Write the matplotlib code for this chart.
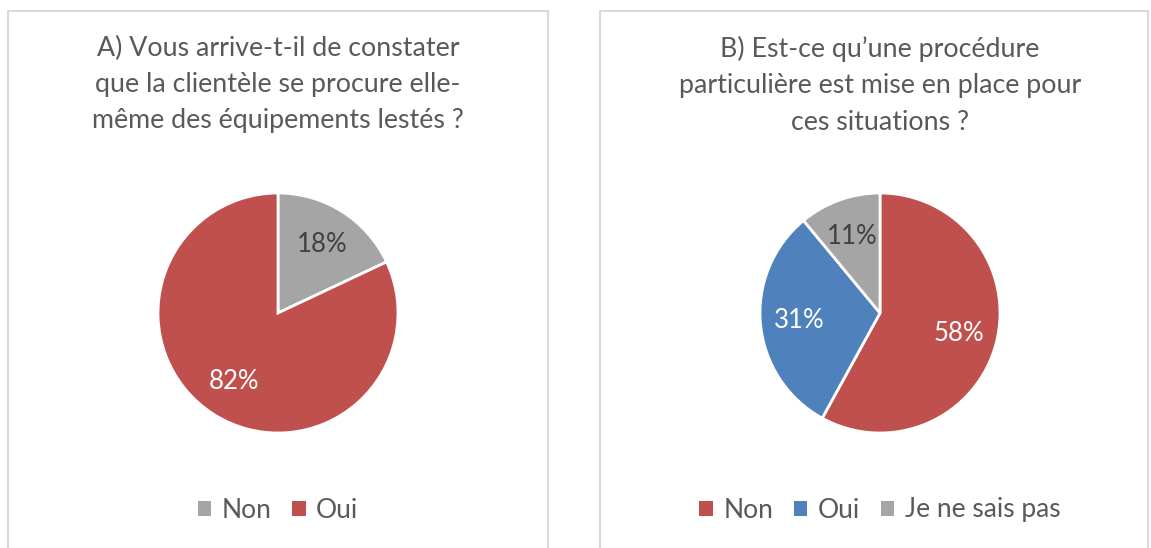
import matplotlib
matplotlib.use('Agg')
import matplotlib.pyplot as plt
from matplotlib.patches import Rectangle, Patch

plt.rcParams['font.family'] = ['Lato', 'DejaVu Sans']

RED = '#C0504D'
BLUE = '#4F81BD'
GRAY = '#A5A5A5'
TXT = '#595959'

# données
labels_a = ['Non', 'Oui']
values_a = [18, 82]
colors_a = [GRAY, RED]
pct_colors_a = ['#404040', 'white']
title_a = 'A) Vous arrive-t-il de constater\nque la clientèle se procure elle-\nmême des équipements lestés ?'

labels_b = ['Non', 'Oui', 'Je ne sais pas']
values_b = [58, 31, 11]
colors_b = [RED, BLUE, GRAY]
pct_colors_b = ['white', 'white', '#404040']
title_b = 'B) Est-ce qu\u2019une procédure\nparticulière est mise en place pour\nces situations ?'

W, H = 1151, 548
fig = plt.figure(figsize=(W / 100, H / 100), dpi=100)
fig.patch.set_facecolor('white')


def px_rect(x0, y0, x1, y1):
    # pixel coords (origin top-left) -> figure fraction rect
    return [x0 / W, 1 - y1 / H, (x1 - x0) / W, (y1 - y0) / H]


def panel(x0, x1, cx, values, colors, pct_colors, labels, title):
    fig.patches.append(Rectangle((x0 / W, -0.05), (x1 - x0) / W, 1.05 - 11 / H,
                                 transform=fig.transFigure, fill=False,
                                 edgecolor='#D9D9D9', linewidth=1.5))
    fig.text(cx / W, 1 - 36 / H, title, ha='center', va='top', fontsize=19.3,
             color=TXT, linespacing=1.56)
    r = 120
    pad = 1.1
    ax = fig.add_axes(px_rect(cx - r * pad, 313 - r * pad, cx + r * pad, 313 + r * pad))
    wedges, texts, autotexts = ax.pie(values, colors=colors, startangle=90, counterclock=False,
                                      autopct='%1.0f%%', pctdistance=0.68,
                                      wedgeprops=dict(edgecolor='white', linewidth=2),
                                      textprops=dict(fontsize=18.5))
    for t, c in zip(autotexts, pct_colors):
        t.set_color(c)
    ax.set_xlim(-pad, pad)
    ax.set_ylim(-pad, pad)
    ax.set_aspect('equal')
    ax.axis('off')
    handles = [Patch(facecolor=c, edgecolor='none') for c in colors]
    fig.legend(handles, labels, loc='center', bbox_to_anchor=(cx / W, 1 - 510 / H),
               ncol=len(labels), frameon=False, fontsize=19, labelcolor=TXT,
               handlelength=0.5, handleheight=0.5, handletextpad=0.4, columnspacing=0.8)


panel(8, 548, 278, values_a, colors_a, pct_colors_a, labels_a, title_a)
panel(600, 1148, 880, values_b, colors_b, pct_colors_b, labels_b, title_b)

fig.savefig('out.png', dpi=100)
